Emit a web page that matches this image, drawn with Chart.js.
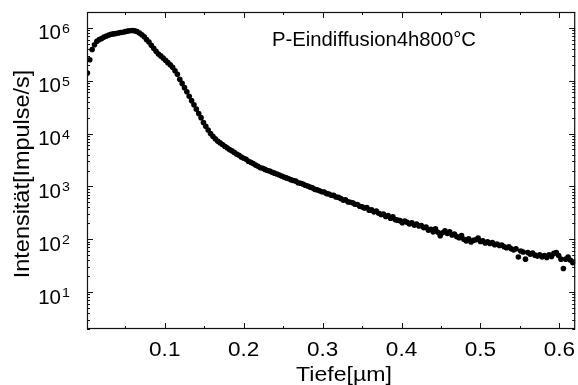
<!DOCTYPE html>
<html>
<head>
<meta charset="utf-8">
<script src="https://cdn.jsdelivr.net/npm/chart.js@4/dist/chart.umd.min.js"></script>
<style>
  html, body { margin: 0; padding: 0; background: #fff; }
  #wrap { width: 578px; height: 385px; }
</style>
</head>
<body>
<div id="wrap"><canvas id="c" width="578" height="385"></canvas></div>
<script>
// ---- data ----
const depth = [
  0.002,0.005,0.008,0.011,0.014,0.017,0.020,0.023,0.026,0.029,
  0.032,0.035,0.038,0.041,0.044,0.047,0.050,0.053,0.056,0.059,
  0.062,0.065,0.068,0.071,0.074,0.077,0.080,0.083,0.086,0.089,
  0.092,0.095,0.098,0.101,0.104,0.107,0.110,0.113,0.116,0.119,
  0.122,0.125,0.128,0.131,0.134,0.137,0.140,0.143,0.146,0.149,
  0.152,0.155,0.158,0.161,0.164,0.167,0.170,0.173,0.176,0.179,
  0.182,0.185,0.188,0.191,0.194,0.197,0.200,0.203,0.206,0.209,
  0.212,0.215,0.218,0.221,0.224,0.227,0.230,0.233,0.236,0.239,
  0.242,0.245,0.248,0.251,0.254,0.257,0.260,0.263,0.266,0.269,
  0.272,0.275,0.278,0.281,0.284,0.287,0.290,0.293,0.296,0.299,
  0.302,0.305,0.308,0.311,0.314,0.317,0.320,0.323,0.326,0.329,
  0.332,0.335,0.338,0.341,0.344,0.347,0.350,0.353,0.356,0.359,
  0.362,0.365,0.368,0.371,0.374,0.377,0.380,0.383,0.386,0.389,
  0.392,0.395,0.398,0.401,0.404,0.407,0.410,0.413,0.416,0.419,
  0.422,0.425,0.428,0.431,0.434,0.437,0.440,0.443,0.446,0.449,
  0.452,0.455,0.458,0.461,0.464,0.467,0.470,0.473,0.476,0.479,
  0.482,0.485,0.488,0.491,0.494,0.497,0.500,0.503,0.506,0.509,
  0.512,0.515,0.518,0.521,0.524,0.527,0.530,0.533,0.536,0.539,
  0.542,0.545,0.548,0.551,0.554,0.557,0.560,0.563,0.566,0.569,
  0.572,0.575,0.578,0.581,0.584,0.587,0.590,0.593,0.596,0.599,
  0.602,0.605,0.608,0.611,0.614,0.617,0.620
];
const intensity = [
  1.4e5,2.5e5,3.9e5,4.8e5,5.6e5,6.0e5,6.3e5,6.7e5,7.0e5,7.3e5,
  7.6e5,7.7e5,7.85e5,8.0e5,8.2e5,8.3e5,8.5e5,8.7e5,8.85e5,8.9e5,
  8.8e5,8.5e5,8.0e5,7.4e5,6.8e5,6.0e5,5.4e5,4.7e5,4.1e5,3.6e5,
  3.2e5,2.95e5,2.7e5,2.45e5,2.2e5,2.0e5,1.8e5,1.55e5,1.32e5,1.07e5,
  8.9e4,7.4e4,6.2e4,5.1e4,4.2e4,3.5e4,2.9e4,2.4e4,2.0e4,1.62e4,
  1.38e4,1.17e4,1.0e4,8.9e3,8.0e3,7.2e3,6.7e3,6.2e3,5.75e3,5.4e3,
  5.0e3,4.7e3,4.4e3,4.1e3,3.9e3,3.6e3,3.4e3,3.25e3,3.0e3,2.85e3,
  2.7e3,2.55e3,2.4e3,2.25e3,2.2e3,2.1e3,2.0e3,1.95e3,1.85e3,1.78e3,
  1.72e3,1.64e3,1.57e3,1.51e3,1.45e3,1.40e3,1.33e3,1.29e3,1.26e3,1.17e3,
  1150,1110,1050,1020,970,940,880,860,830,790,
  785,730,720,680,675,630,620,590,550,560,
  510,500,490,460,455,420,410,390,400,355,
  360,330,340,310,295,300,270,280,250,265,
  235,230,225,205,220,210,195,205,185,193,
  178,182,166,170,148,155,138,158,135,117,
  132,145,129,138,120,126,112,107,117,100,
  93,102,89,95,98,105,91,93,85,89,
  83,87,79,81,76,78,72,69,72,66,
  63,66,46,60,57.5,42,56,52,55,50,
  48,51,46,49,45,51,47,54,56,49,
  42,28,42,46,40,36,38
];
const xMajorTicks = [0.1, 0.2, 0.3, 0.4, 0.5, 0.6];
const xTickLabels = ['0.1', '0.2', '0.3', '0.4', '0.5', '0.6'];
const xMinorTicks = [0.05, 0.15, 0.25, 0.35, 0.45, 0.55];
const yExponents = [1, 2, 3, 4, 5, 6];
const yTickBase = '10';
const xTitle = 'Tiefe[µm]';
const yTitle = 'Intensität[Impulse/s]';
const annotation = 'P-Eindiffusion4h800°C';

const FONT = '"Liberation Sans", Arial, Helvetica, sans-serif';

function drawText(ctx, text, x, y, size, align, sx) {
  ctx.save();
  ctx.font = size + 'px ' + FONT;
  ctx.textAlign = align;
  ctx.textBaseline = 'alphabetic';
  ctx.translate(x, y);
  ctx.scale(sx, 1);
  ctx.fillText(text, 0, 0);
  ctx.restore();
}

const framePlugin = {
  id: 'frame',
  afterDraw(chart) {
    const ctx = chart.ctx;
    const {left, right, top, bottom} = chart.chartArea;
    const xs = chart.scales.x, ys = chart.scales.y;
    ctx.save();
    ctx.strokeStyle = '#111';
    ctx.lineWidth = 1.2;
    ctx.strokeRect(left + 0.5, top + 0.5, right - left - 1, bottom - top - 1);
    ctx.lineWidth = 1;
    ctx.beginPath();
    const majL = 6, minL = 3;
    xMajorTicks.forEach(v => {
      const p = Math.round(xs.getPixelForValue(v)) + 0.5;
      ctx.moveTo(p, bottom); ctx.lineTo(p, bottom - majL);
      ctx.moveTo(p, top); ctx.lineTo(p, top + majL);
    });
    xMinorTicks.forEach(v => {
      const p = Math.round(xs.getPixelForValue(v)) + 0.5;
      ctx.moveTo(p, bottom); ctx.lineTo(p, bottom - minL);
      ctx.moveTo(p, top); ctx.lineTo(p, top + minL);
    });
    const yMin = ys.min, yMax = ys.max;
    for (let e = 0; e <= 6; e++) {
      for (let m = 1; m <= 9; m++) {
        const v = m * Math.pow(10, e);
        if (v < yMin || v > yMax) continue;
        const p = Math.round(ys.getPixelForValue(v)) + 0.5;
        const L = (m === 1) ? majL : minL;
        ctx.moveTo(left, p); ctx.lineTo(left + L, p);
        ctx.moveTo(right, p); ctx.lineTo(right - L, p);
      }
    }
    ctx.stroke();

    ctx.fillStyle = '#000';
    // x tick labels
    xMajorTicks.forEach((v, i) => {
      drawText(ctx, xTickLabels[i], xs.getPixelForValue(v), 356, 20.5, 'center', 1.1);
    });
    // y tick labels with superscript exponent
    yExponents.forEach(e => {
      const p = ys.getPixelForValue(Math.pow(10, e));
      drawText(ctx, yTickBase, 61, p + 11.5, 19.5, 'right', 1.05);
      drawText(ctx, String(e), 62, p + 5, 13.5, 'left', 1.05);
    });
    // x title
    drawText(ctx, xTitle, 344, 381, 21, 'center', 1.1);
    // y title
    ctx.save();
    ctx.translate(28.5, 174);
    ctx.rotate(-Math.PI / 2);
    drawText(ctx, yTitle, 0, 0, 21.5, 'center', 1.09);
    ctx.restore();
    // annotation
    drawText(ctx, annotation, 272, 46, 20.3, 'left', 1.0);
    ctx.restore();
  }
};

new Chart(document.getElementById('c'), {
  type: 'scatter',
  data: {
    datasets: [{
      data: depth.map((d, i) => ({x: d, y: intensity[i]})),
      backgroundColor: '#000',
      borderColor: '#000',
      borderWidth: 0,
      pointRadius: 2.8,
      pointHoverRadius: 2.8
    }]
  },
  options: {
    responsive: false,
    animation: false,
    devicePixelRatio: 1,
    layout: { padding: { top: 12, right: 2, left: 0, bottom: 0 } },
    plugins: { legend: { display: false }, tooltip: { enabled: false } },
    events: [],
    scales: {
      x: {
        type: 'linear', min: 0.0015, max: 0.62,
        grid: { display: false }, border: { display: false },
        ticks: { display: false },
        afterFit(s) { s.height = 56; }
      },
      y: {
        type: 'logarithmic', min: 2, max: 2e6,
        grid: { display: false }, border: { display: false },
        ticks: { display: false },
        afterFit(s) { s.width = 87; }
      }
    }
  },
  plugins: [framePlugin]
});
</script>
</body>
</html>
